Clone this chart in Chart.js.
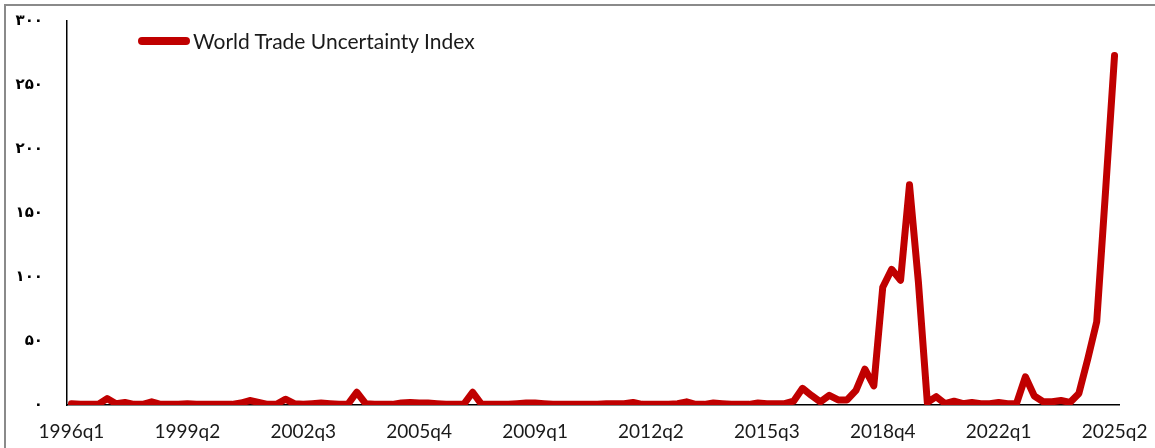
<!DOCTYPE html>
<html>
<head>
<meta charset="utf-8">
<title>World Trade Uncertainty Index</title>
<script src="https://cdn.jsdelivr.net/npm/chart.js@4.4.1/dist/chart.umd.min.js"></script>
<style>

    body {
        margin: 0;
        background: #ffffff;
        overflow: hidden;
    }

    .frame {
        position: absolute;
        left: 4px;
        top: 4px;
        width: 1200px;
        height: 500px;
        border-top: 2px solid #8a8a8a;
        border-left: 2px solid #8a8a8a;
    }

    .wrap {
        position: absolute;
        left: 0;
        top: 0;
        width: 1155px;
        height: 448px;
    }

    .legend {
        position: absolute;
        left: 138px;
        top: 28px;
        display: flex;
        align-items: center;
        font-family: Lato, "Open Sans", sans-serif;
        font-size: 21px;
        color: #1a1a1a;
    }

    .legend .swatch {
        width: 52px;
        height: 8px;
        border-radius: 4px;
        background: #c00000;
        margin-right: 3px;
    }

</style>
</head>
<body>

<div class="frame"></div>

<div class="wrap">
    <canvas id="lineChart" width="1155" height="448"></canvas>
</div>

<div class="legend">
    <span class="swatch"></span>
    <span id="legendText"></span>
</div>

<script>

/* =========================
   DATA
========================= */

const seriesName = "World Trade Uncertainty Index";

const firstYear = 1996;
const lastYear = 2025;
const lastQuarter = 2;

// one value per quarter, 1996q1 .. 2025q2
const uncertainty = [
    1, 0.5, 0.5, 0.5, 5, 1, 2, 0.5, 0.5, 2.5,
    0.5, 0.5, 0.5, 1, 0.5, 0.5, 0.5, 0.5, 0.5, 1.5,
    3.5, 2, 0.5, 0.5, 4.5, 1, 0.5, 1, 1.5, 1,
    0.5, 0.5, 10, 1, 0.5, 0.5, 0.5, 1.5, 2, 1.5,
    1.5, 1, 0.5, 0.5, 0.5, 10, 0.5, 0.5, 0.5, 0.5,
    1, 1.5, 1.5, 1, 0.5, 0.5, 0.5, 0.5, 0.5, 0.5,
    1, 1, 1, 2, 0.5, 0.5, 0.5, 0.5, 1, 2.5,
    0.5, 0.5, 1.5, 1, 0.5, 0.5, 0.5, 1.5, 1, 1,
    1, 3, 13, 7.5, 2.5, 7.5, 4, 4, 11.5, 28,
    15, 92, 106, 97.5, 172, 96, 2, 6.5, 1, 3,
    1, 2, 1, 1, 2, 1, 1, 22, 7, 2.5,
    2.5, 3.5, 2, 9, 36, 65, 168, 273
];

const yTickValues = [0, 50, 100, 150, 200, 250, 300];
const yTickLabels = ["۰", "۵۰", "۱۰۰", "۱۵۰", "۲۰۰", "۲۵۰", "۳۰۰"];

// every 13th quarter gets a label
const labelStep = 13;

/* =========================
   CATEGORIES
========================= */

const quarters = [];

for (let year = firstYear; year <= lastYear; year++) {

    for (let q = 1; q <= 4; q++) {

        if (year === lastYear && q > lastQuarter) {
            break;
        }

        quarters.push(year + "q" + q);

    }

}

document.getElementById("legendText").textContent = seriesName;

/* =========================
   LINE CHART
========================= */

let lineChart;

function createLineChart() {

    const ctx =
        document.getElementById("lineChart");

    lineChart = new Chart(ctx, {

        type: "line",

        data: {

            labels: quarters,

            datasets: [{

                label: seriesName,

                data: uncertainty,

                borderColor: "#c00000",

                borderWidth: 7,

                borderCapStyle: "round",

                borderJoinStyle: "round",

                pointRadius: 0,

                tension: 0,

                fill: false

            }]

        },

        options: {

            responsive: false,

            animation: false,

            layout: {

                padding: {
                    left: 0,
                    top: 21,
                    right: 36,
                    bottom: 0
                }

            },

            scales: {

                x: {

                    offset: true,

                    // invisible tick marks give the gap under the axis
                    grid: {
                        display: false,
                        drawTicks: true,
                        tickLength: 15
                    },

                    border: {
                        display: true,
                        color: "#000000",
                        width: 1.5
                    },

                    ticks: {

                        autoSkip: false,
                        maxRotation: 0,
                        minRotation: 0,
                        padding: 0,
                        color: "#1a1a1a",

                        font: {
                            family: "Lato",
                            size: 19
                        },

                        callback: function (value, index) {

                            return index % labelStep === 0
                                ? quarters[index]
                                : "";

                        }

                    },

                    afterFit: function (scale) {
                        scale.height = 43;
                    }

                },

                y: {

                    min: 0,

                    max: 300,

                    grid: {
                        display: false,
                        drawTicks: true,
                        tickLength: 24
                    },

                    border: {
                        display: true,
                        color: "#000000",
                        width: 1.5
                    },

                    afterBuildTicks: function (scale) {

                        scale.ticks = yTickValues.map(v => ({ value: v }));

                    },

                    ticks: {

                        padding: 0,
                        color: "#000000",

                        font: {
                            family: "DejaVu Sans",
                            size: 15,
                            weight: "bold"
                        },

                        callback: function (value) {

                            return yTickLabels[yTickValues.indexOf(value)];

                        }

                    },

                    afterFit: function (scale) {
                        scale.width = 67;
                    }

                }

            },

            plugins: {

                legend: {
                    display: false
                },

                tooltip: {
                    enabled: false
                }

            }

        }

    });

}

createLineChart();

</script>

</body>
</html>
